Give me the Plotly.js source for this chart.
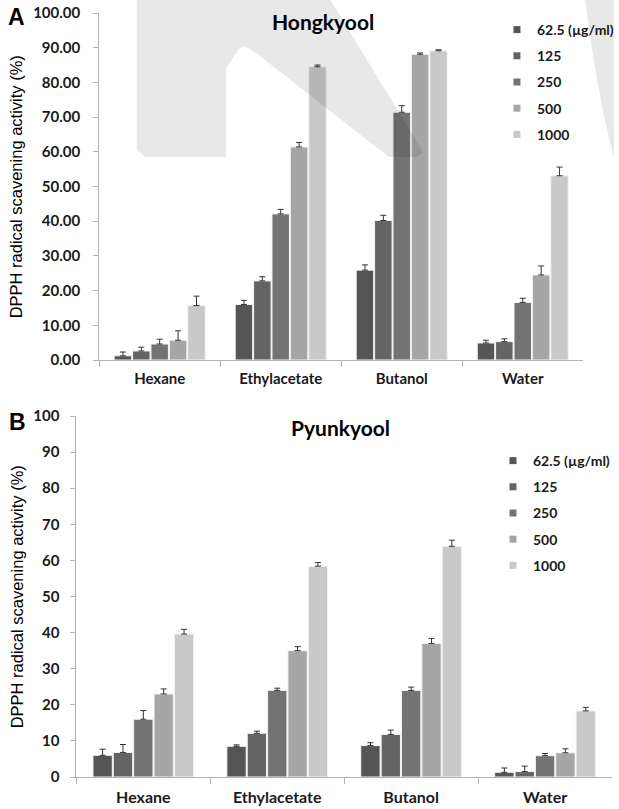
<!DOCTYPE html>
<html>
<head>
<meta charset="utf-8">
<script src="https://cdn.plot.ly/plotly-3.0.1.min.js"></script>
<style>
  html, body { margin: 0; padding: 0; background: #ffffff; }
  #chart { width: 619px; height: 809px; }
</style>
</head>
<body>
<div id="chart"></div>
<script>
// ---------------- data ----------------
const categories = ['Hexane', 'Ethylacetate', 'Butanol', 'Water'];
const concentrations = ['62.5 (µg/ml)', '125', '250', '500', '1000'];

// Panel A: Hongkyool (mean, %)
const hong62 = [1.2, 16.0, 25.9, 4.9];
const hong125 = [2.6, 22.8, 40.2, 5.3];
const hong250 = [4.6, 42.1, 71.4, 16.6];
const hong500 = [5.7, 61.4, 88.1, 24.5];
const hong1000 = [15.7, 84.5, 89.1, 53.1];
// Panel A: error (+)
const hongErr62 = [1.1, 1.2, 1.5, 0.8];
const hongErr125 = [1.1, 1.2, 1.5, 0.8];
const hongErr250 = [1.4, 1.3, 1.9, 1.2];
const hongErr500 = [2.7, 1.3, 0.4, 2.6];
const hongErr1000 = [2.7, 0.5, 0.3, 2.5];

// Panel B: Pyunkyool (mean, %)
const pyun62 = [6.0, 8.5, 8.7, 1.3];
const pyun125 = [6.8, 12.1, 11.8, 1.5];
const pyun250 = [16.0, 24.0, 24.0, 5.9];
const pyun500 = [23.0, 35.0, 37.0, 6.7];
const pyun1000 = [39.6, 58.4, 63.9, 18.3];
// Panel B: error (+)
const pyunErr62 = [1.7, 0.4, 0.8, 1.2];
const pyunErr125 = [2.2, 0.6, 1.2, 1.5];
const pyunErr250 = [2.4, 0.6, 0.9, 0.6];
const pyunErr500 = [1.4, 1.1, 1.4, 1.1];
const pyunErr1000 = [1.3, 1.0, 1.7, 1.0];

const yTicks = [0, 10, 20, 30, 40, 50, 60, 70, 80, 90, 100];

// ---------------- styling ----------------
const W = 619, H = 809;
const px = v => v / W;          // pixel -> paper x
const py = v => 1 - v / H;      // pixel -> paper y
const colors = ['#555555', '#646464', '#737373', '#a6a6a6', '#c9c9c9'];
const calibri = 'Lato, "Open Sans", sans-serif';
const arial = '"Liberation Sans", Arial, sans-serif';
const axisGray = '#b3b3b3';

const hongVals = [hong62, hong125, hong250, hong500, hong1000];
const hongErrs = [hongErr62, hongErr125, hongErr250, hongErr500, hongErr1000];
const pyunVals = [pyun62, pyun125, pyun250, pyun500, pyun1000];
const pyunErrs = [pyunErr62, pyunErr125, pyunErr250, pyunErr500, pyunErr1000];

const traces = [];
function addPanel(vals, errs, xa, ya, legendId) {
  vals.forEach((v, i) => {
    traces.push({
      type: 'bar', x: categories, y: v, name: concentrations[i],
      xaxis: xa, yaxis: ya, showlegend: false,
      marker: { color: colors[i], line: { color: '#f4f4f4', width: 1 } },
      error_y: { type: 'data', symmetric: false, array: errs[i],
                 arrayminus: errs[i].map(() => 0),
                 color: '#333333', thickness: 1, width: 3 },
      hovertemplate: '%{x}<br>' + concentrations[i] + ': %{y}<extra></extra>'
    });
  });
  // legend entries with small square swatches
  concentrations.forEach((c, i) => {
    traces.push({
      type: 'scatter', mode: 'markers', x: [null], y: [null], name: c,
      xaxis: xa, yaxis: ya, legend: legendId, legendgroup: legendId + i,
      marker: { symbol: 'square', size: 7, color: colors[i] },
      hoverinfo: 'skip'
    });
  });
}
addPanel(hongVals, hongErrs, 'x', 'y', 'legend');
addPanel(pyunVals, pyunErrs, 'x2', 'y2', 'legend2');

const xCommon = {
  type: 'category', showline: true, linecolor: axisGray, linewidth: 1,
  ticks: 'outside', tickson: 'boundaries', ticklen: 6, tickcolor: axisGray,
  showgrid: false, zeroline: false, fixedrange: true
};
const yCommon = {
  range: [0, 100], tickvals: yTicks, showline: true, linecolor: axisGray,
  linewidth: 1, ticks: 'outside', ticklen: 5, tickcolor: axisGray,
  showgrid: false, zeroline: false, fixedrange: true
};

const legendCommon = {
  bgcolor: 'rgba(0,0,0,0)', borderwidth: 0, xanchor: 'left', yanchor: 'top',
  font: { family: calibri, size: 14, color: '#1a1a1a', weight: 'bold' },
  tracegroupgap: 5, itemclick: false, itemdoubleclick: false
};

// watermark (light grey logo over the upper panel)
const wm = (pts) => 'M' + pts.map(p => px(p[0]).toFixed(4) + ',' + py(p[1]).toFixed(4)).join(' L') + ' Z';
const watermark1 = wm([[138, 0], [333, 0], [423, 146], [426, 153], [420, 157], [392, 157],
                       [254, 50], [246, 46], [240, 50], [228, 68], [228, 157], [146, 157],
                       [138, 150]]);
const watermark2 = 'M' + px(590) + ',' + py(0) + ' Q' + px(602) + ',' + py(95) + ' ' + px(619) + ',' + py(158) +
                   ' L' + px(619) + ',' + py(0) + ' Z';

const ann = (text, x, y, font, extra) => Object.assign({
  text: text, x: px(x), y: py(y), xref: 'paper', yref: 'paper', showarrow: false,
  xanchor: 'center', yanchor: 'middle', font: font
}, extra || {});

const layout = {
  width: W, height: H,
  margin: { l: 0, r: 0, t: 0, b: 0 },
  paper_bgcolor: '#ffffff', plot_bgcolor: 'rgba(0,0,0,0)',
  barmode: 'group', bargap: 0.24, bargroupgap: 0.05,
  font: { family: calibri, color: '#1a1a1a' },
  xaxis: Object.assign({}, xCommon, {
    domain: [px(100), px(588)], anchor: 'y',
    tickfont: { family: calibri, size: 15, weight: 'bold', color: '#1a1a1a' },
    ticklabelstandoff: 5
  }),
  yaxis: Object.assign({}, yCommon, {
    domain: [py(360), py(13)], anchor: 'x', tickformat: '.2f',
    tickfont: { family: calibri, size: 15, weight: 'bold', color: '#1a1a1a' },
    ticklabelstandoff: 10
  }),
  xaxis2: Object.assign({}, xCommon, {
    domain: [px(77), px(617)], anchor: 'y2',
    tickfont: { family: calibri, size: 16, weight: 'bold', color: '#1a1a1a' },
    ticklabelstandoff: 6
  }),
  yaxis2: Object.assign({}, yCommon, {
    domain: [py(777), py(416)], anchor: 'x2', tickformat: 'd',
    tickfont: { family: calibri, size: 15, weight: 'bold', color: '#1a1a1a' },
    ticklabelstandoff: 8
  }),
  legend: Object.assign({}, legendCommon, { x: px(501), y: py(14) }),
  legend2: Object.assign({}, legendCommon, { x: px(497), y: py(445) }),
  shapes: [
    { type: 'path', path: watermark1, xref: 'paper', yref: 'paper', layer: 'above',
      fillcolor: 'rgba(0,0,0,0.09)', line: { width: 0 } },
    { type: 'path', path: watermark2, xref: 'paper', yref: 'paper', layer: 'above',
      fillcolor: 'rgba(0,0,0,0.09)', line: { width: 0 } }
  ],
  annotations: [
    ann('A', 16.5, 17, { family: arial, size: 23, weight: 'bold', color: '#000' }),
    ann('B', 17.5, 422, { family: arial, size: 23, weight: 'bold', color: '#000' }),
    ann('Hongkyool', 326, 22, { family: calibri, size: 21, weight: 'bold', color: '#000' }),
    ann('Pyunkyool', 343, 427, { family: calibri, size: 21, weight: 'bold', color: '#000' }),
    ann('DPPH radical scavening activity (%)', 17, 186.5,
        { family: arial, size: 16.5, color: '#000' }, { textangle: -90 }),
    ann('DPPH radical scavening activity (%)', 17, 596.5,
        { family: arial, size: 16.5, color: '#000' }, { textangle: -90 })
  ]
};

Plotly.newPlot('chart', traces, layout, { displayModeBar: false });
</script>
</body>
</html>
